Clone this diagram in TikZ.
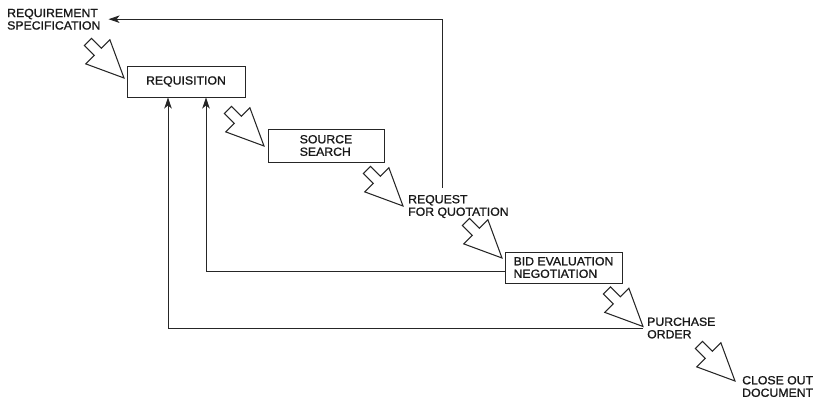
\documentclass[tikz,border=0pt]{standalone}
\usepackage{fontspec}
\setmainfont{Liberation Sans}
\newfontfamily\labfont[FakeStretch=1.04,FakeBold=1.2]{Liberation Sans}
\usetikzlibrary{arrows.meta}
\begin{document}
\begin{tikzpicture}[x=1pt,y=-1pt,
  lbl/.style={font=\labfont\fontsize{11.8}{12.5}\selectfont, align=left, inner sep=0pt, text=black!90},
  procbox/.style={lbl, draw=black!85, line width=1pt, inner xsep=7pt},
  fb/.style={draw=black!85, line width=0.85pt, -{Stealth[length=11pt,width=7.5pt,inset=3pt]}},
  harrow/.pic={\draw[draw=black!85, line width=1.05pt, fill=white, line join=miter]
      (0,0) -- (-14.1,-38.2) -- (-22.6,-29.7) -- (-32.5,-39.6) -- (-39.6,-32.5)
      -- (-29.7,-22.6) -- (-38.2,-14.1) -- cycle;}
]
\useasboundingbox (0,0) rectangle (817,400);

% nodes
\node[lbl, anchor=west] (spec) at (7,19.2) {REQUIREMENT\\SPECIFICATION};
\node[procbox, minimum width=118pt, minimum height=31pt] (req) at (186,81.5) {REQUISITION};
\node[procbox, minimum width=116pt, minimum height=33pt] (src) at (326,145.5) {SOURCE\\SEARCH};
\node[lbl, anchor=west] (rfq) at (408,206.5) {REQUEST\\FOR QUOTATION};
\node[procbox, minimum width=117pt, minimum height=31pt] (bid) at (563.5,267.5) {BID EVALUATION\\NEGOTIATION};
\node[lbl, anchor=west] (po) at (647,328) {PURCHASE\\ORDER};
\node[lbl, anchor=west] (close) at (742,386.5) {CLOSE OUT\\DOCUMENT};

% hollow flow arrows (tips)
\pic at (124,78) {harrow};
\pic at (264,146) {harrow};
\pic at (403,206) {harrow};
\pic at (502,258) {harrow};
\pic at (643,326.5) {harrow};
\pic at (735,381) {harrow};

% feedback connectors
\coordinate (rfqtop) at ([xshift=34pt,yshift=7pt]rfq.north west);
\draw[fb] (rfqtop) |- ([xshift=8pt]spec.east);
\draw[fb] ([yshift=-3.5pt]bid.west) -| ([xshift=20pt]req.south);
\draw[fb] ([xshift=-4pt]po.west) -| ([xshift=-18pt]req.south);
\end{tikzpicture}
\end{document}
